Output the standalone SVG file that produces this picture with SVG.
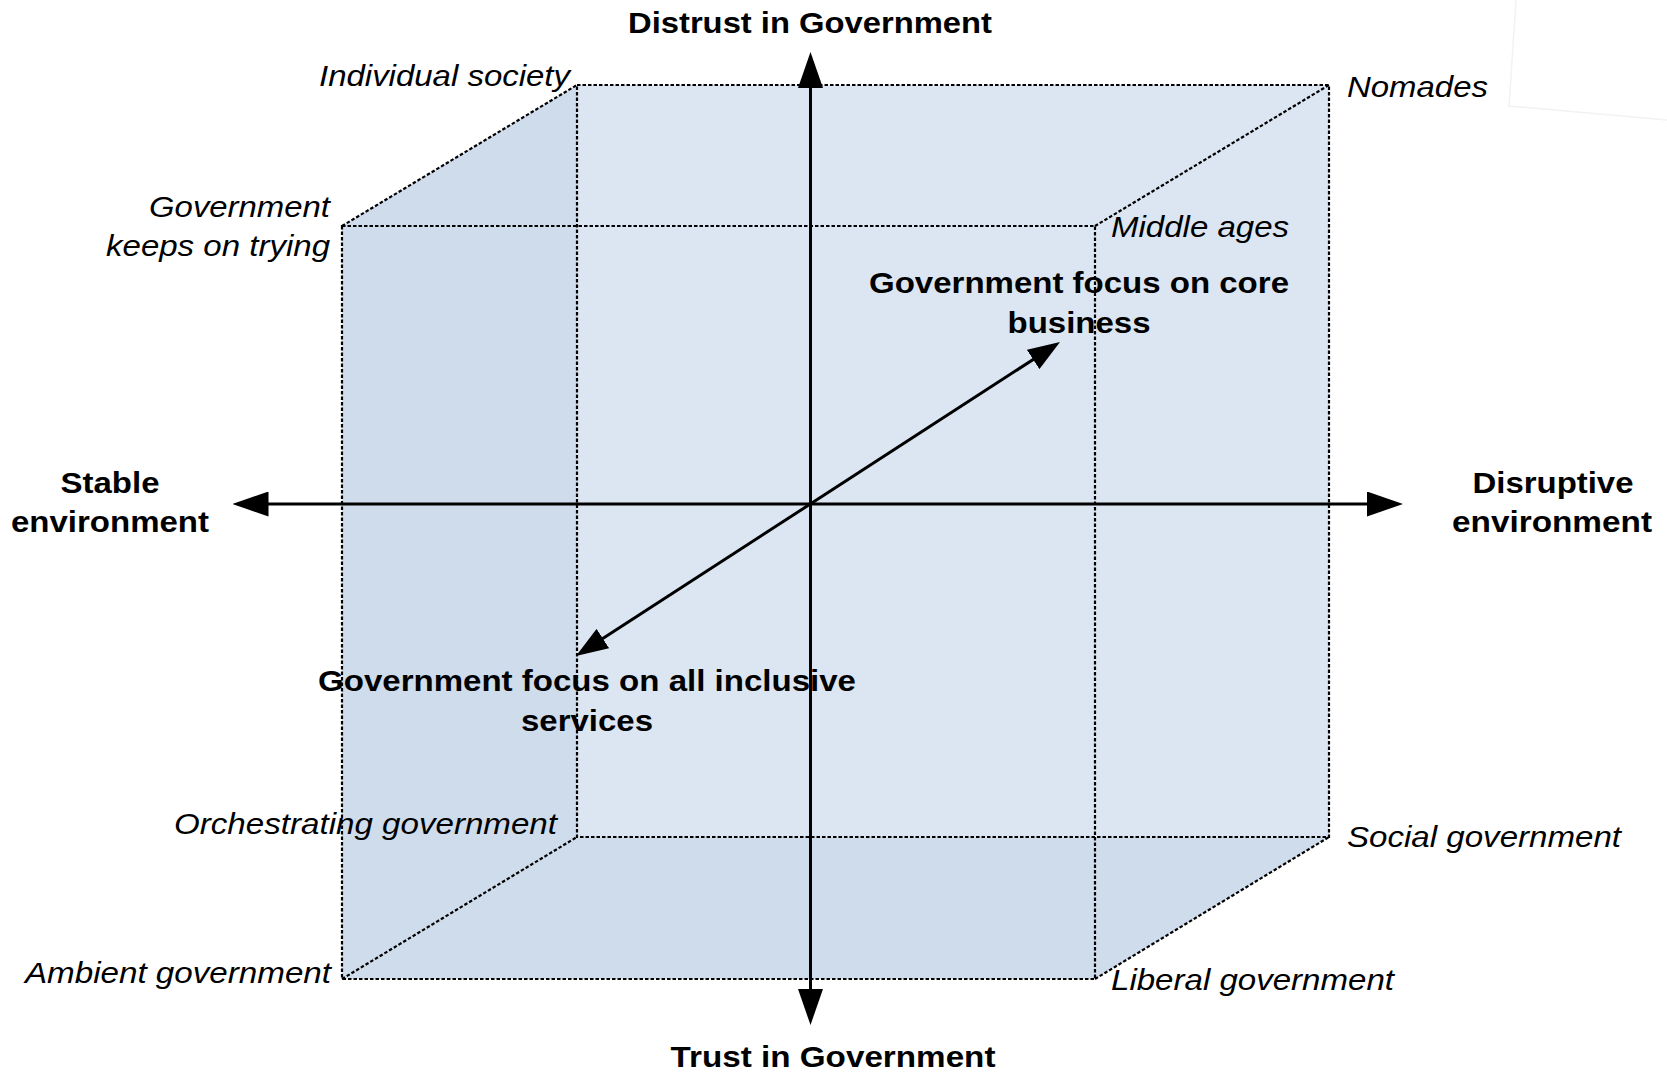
<svg xmlns="http://www.w3.org/2000/svg" width="1667" height="1072" viewBox="0 0 1667 1072">
  <style>
    text { font-family: "Liberation Sans", Arial, sans-serif; font-size: 30px; fill: #000; }
    .b { font-weight: bold; }
    .i { font-style: italic; }
    .edge { fill: none; stroke: #000; stroke-width: 2.2; stroke-dasharray: 3.5 2; }
    .axis { fill: none; stroke: #000; stroke-width: 3; }
    .back { fill: #dce6f2; }
    .side { fill: #cfdcec; }
  </style>
  <defs>
    <marker id="ah" markerUnits="userSpaceOnUse" markerWidth="36" markerHeight="25" viewBox="0 0 36 25" refX="26" refY="12.5" orient="auto-start-reverse">
      <path d="M0,0 L36,12.5 L0,25 z" fill="#000"/>
    </marker>
    <marker id="ahs" markerUnits="userSpaceOnUse" markerWidth="32" markerHeight="23" viewBox="0 0 32 23" refX="24" refY="11.5" orient="auto-start-reverse">
      <path d="M0,0 L32,11.5 L0,23 z" fill="#000"/>
    </marker>
  </defs>
  <rect width="1667" height="1072" fill="#fff"/>
  <!-- faint paper corner -->
  <path d="M1516,0 L1509,106 L1667,120" fill="none" stroke="#f2f2f2" stroke-width="1.5"/>

  <g id="cube">
    <rect class="back" x="577" y="85" width="752" height="752"/>
    <polygon class="side" points="342,226 577,85 577,837 342,979"/>
    <polygon class="side" points="342,979 577,837 1329,837 1095,979"/>
    <rect class="edge" x="577" y="85" width="752" height="752"/>
    <rect class="edge" x="342" y="226" width="753" height="753"/>
    <line class="edge" x1="342" y1="226" x2="577" y2="85"/>
    <line class="edge" x1="1095" y1="226" x2="1329" y2="85"/>
    <line class="edge" x1="342" y1="979" x2="577" y2="837"/>
    <line class="edge" x1="1095" y1="979" x2="1329" y2="837"/>
  </g>

  <g id="connectors">
    <line class="axis" x1="810.5" y1="1015" x2="810.5" y2="62" marker-start="url(#ah)" marker-end="url(#ah)"/>
    <line class="axis" x1="242.5" y1="504" x2="1393" y2="504" marker-start="url(#ah)" marker-end="url(#ah)"/>
    <line class="axis" x1="582.7" y1="651.6" x2="1053.3" y2="346.4" marker-start="url(#ahs)" marker-end="url(#ahs)"/>
  </g>

  <g id="distrust"><text class="b" x="810" y="33" text-anchor="middle" textLength="364" lengthAdjust="spacingAndGlyphs">Distrust in Government</text></g>
  <g id="trust"><text class="b" x="833" y="1067" text-anchor="middle" textLength="325" lengthAdjust="spacingAndGlyphs">Trust in Government</text></g>
  <g id="stable">
    <text class="b" x="110" y="493" text-anchor="middle" textLength="99" lengthAdjust="spacingAndGlyphs">Stable</text>
    <text class="b" x="110" y="532" text-anchor="middle" textLength="198" lengthAdjust="spacingAndGlyphs">environment</text>
  </g>
  <g id="disruptive">
    <text class="b" x="1553" y="493" text-anchor="middle" textLength="161" lengthAdjust="spacingAndGlyphs">Disruptive</text>
    <text class="b" x="1552" y="532" text-anchor="middle" textLength="200" lengthAdjust="spacingAndGlyphs">environment</text>
  </g>
  <g id="core-business">
    <text class="b" x="1079" y="293" text-anchor="middle" textLength="420" lengthAdjust="spacingAndGlyphs">Government focus on core</text>
    <text class="b" x="1079" y="333" text-anchor="middle" textLength="143" lengthAdjust="spacingAndGlyphs">business</text>
  </g>
  <g id="all-inclusive">
    <text class="b" x="587" y="691" text-anchor="middle" textLength="538" lengthAdjust="spacingAndGlyphs">Government focus on all inclusive</text>
    <text class="b" x="587" y="731" text-anchor="middle" textLength="132" lengthAdjust="spacingAndGlyphs">services</text>
  </g>

  <g id="individual-society"><text class="i" x="570" y="86" text-anchor="end" textLength="251" lengthAdjust="spacingAndGlyphs">Individual society</text></g>
  <g id="nomades"><text class="i" x="1347" y="97" textLength="141" lengthAdjust="spacingAndGlyphs">Nomades</text></g>
  <g id="keeps-trying">
    <text class="i" x="330" y="217" text-anchor="end" textLength="181" lengthAdjust="spacingAndGlyphs">Government</text>
    <text class="i" x="330" y="256" text-anchor="end" textLength="224" lengthAdjust="spacingAndGlyphs">keeps on trying</text>
  </g>
  <g id="middle-ages"><text class="i" x="1111" y="237" textLength="178" lengthAdjust="spacingAndGlyphs">Middle ages</text></g>
  <g id="orchestrating"><text class="i" x="174" y="834" textLength="383" lengthAdjust="spacingAndGlyphs">Orchestrating government</text></g>
  <g id="social"><text class="i" x="1347" y="847" textLength="274" lengthAdjust="spacingAndGlyphs">Social government</text></g>
  <g id="ambient"><text class="i" x="331" y="983" text-anchor="end" textLength="306" lengthAdjust="spacingAndGlyphs">Ambient government</text></g>
  <g id="liberal"><text class="i" x="1111" y="990" textLength="283" lengthAdjust="spacingAndGlyphs">Liberal government</text></g>
</svg>
